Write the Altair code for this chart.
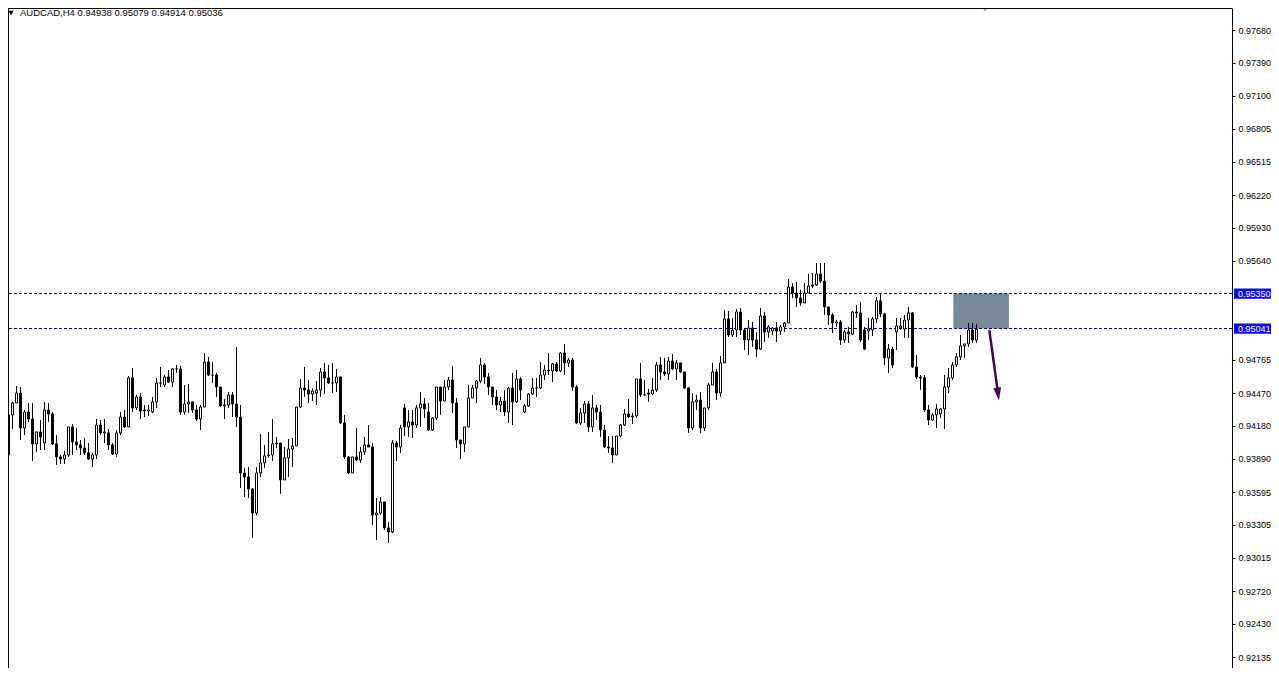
import altair as alt
import pandas as pd

title_text = "AUDCAD,H4  0.94938 0.95079 0.94914 0.95036"

opens = [
    0.94056, 0.93923, 0.94277, 0.94383, 0.94471, 0.94162, 0.94303, 0.94241, 0.94021, 0.94127,
    0.94029, 0.94321, 0.94286, 0.94021, 0.93906, 0.93888, 0.93923, 0.94171, 0.94038, 0.94012,
    0.93985, 0.93941, 0.93888, 0.93923, 0.94188, 0.94118, 0.94118, 0.94012, 0.93932, 0.94118,
    0.94259, 0.94171, 0.94604, 0.94339, 0.94436, 0.94321, 0.94312, 0.94303, 0.94392, 0.94560,
    0.94542, 0.94613, 0.94568, 0.94684, 0.94684, 0.94303, 0.94374, 0.94392, 0.94321, 0.94241,
    0.94347, 0.94745, 0.94630, 0.94630, 0.94524, 0.94356, 0.94365, 0.94454, 0.94374, 0.94259,
    0.93764, 0.93729, 0.93623, 0.93410, 0.93764, 0.93853, 0.93915, 0.93923, 0.94021, 0.94029,
    0.93702, 0.93897, 0.93976, 0.94003, 0.94347, 0.94515, 0.94498, 0.94462, 0.94471, 0.94498,
    0.94657, 0.94604, 0.94560, 0.94560, 0.94613, 0.94206, 0.93906, 0.93764, 0.93906, 0.93879,
    0.93950, 0.94012, 0.93994, 0.93393, 0.93410, 0.93508, 0.93278, 0.93242, 0.94029, 0.93994,
    0.94339, 0.94171, 0.94215, 0.94188, 0.94339, 0.94374, 0.94303, 0.94144, 0.94250, 0.94524,
    0.94400, 0.94524, 0.94586, 0.94383, 0.94056, 0.94021, 0.94171, 0.94427, 0.94515, 0.94577,
    0.94719, 0.94613, 0.94524, 0.94436, 0.94365, 0.94400, 0.94303, 0.94515, 0.94392, 0.94595,
    0.94303, 0.94356, 0.94462, 0.94515, 0.94515, 0.94630, 0.94674, 0.94666, 0.94728, 0.94666,
    0.94825, 0.94737, 0.94763, 0.94524, 0.94206, 0.94294, 0.94374, 0.94171, 0.94339, 0.94303,
    0.94144, 0.93994, 0.93985, 0.93923, 0.94091, 0.94188, 0.94286, 0.94259, 0.94268, 0.94595,
    0.94454, 0.94471, 0.94462, 0.94498, 0.94719, 0.94657, 0.94639, 0.94754, 0.94684, 0.94737,
    0.94657, 0.94515, 0.94162, 0.94392, 0.94409, 0.94162, 0.94339, 0.94542, 0.94657, 0.94471,
    0.94737, 0.95126, 0.94984, 0.95028, 0.95187, 0.95028, 0.94940, 0.95046, 0.94940, 0.94860,
    0.95152, 0.95011, 0.95019, 0.95046, 0.95019, 0.95055, 0.95090, 0.95408, 0.95355, 0.95311,
    0.95267, 0.95355, 0.95417, 0.95426, 0.95523, 0.95461, 0.95232, 0.95161, 0.95090, 0.95099,
    0.94940, 0.95011, 0.94993, 0.95187, 0.95179, 0.95028, 0.95019, 0.95028, 0.95126, 0.95285,
    0.95170, 0.94781, 0.94860, 0.95011, 0.95046, 0.95037, 0.95116, 0.95179, 0.94701, 0.94613,
    0.94604, 0.94321, 0.94232, 0.94277, 0.94286, 0.94330, 0.94524, 0.94604, 0.94719, 0.94790,
    0.94887, 0.94905, 0.95028, 0.94938,
]

highs = [
    0.94082, 0.94294, 0.94392, 0.94533, 0.94524, 0.94321, 0.94383, 0.94383, 0.94127, 0.94232,
    0.94392, 0.94383, 0.94303, 0.94100, 0.93923, 0.93959, 0.94171, 0.94197, 0.94162, 0.94056,
    0.94074, 0.94029, 0.93941, 0.94241, 0.94232, 0.94241, 0.94153, 0.94029, 0.94144, 0.94303,
    0.94321, 0.94621, 0.94692, 0.94454, 0.94471, 0.94365, 0.94365, 0.94436, 0.94604, 0.94701,
    0.94630, 0.94674, 0.94692, 0.94719, 0.94710, 0.94542, 0.94551, 0.94400, 0.94365, 0.94365,
    0.94825, 0.94790, 0.94745, 0.94648, 0.94524, 0.94418, 0.94480, 0.94480, 0.94878, 0.94365,
    0.93809, 0.93817, 0.93632, 0.93817, 0.94109, 0.94012, 0.94127, 0.94241, 0.94082, 0.94029,
    0.93994, 0.94065, 0.94074, 0.94347, 0.94595, 0.94701, 0.94586, 0.94515, 0.94577, 0.94692,
    0.94737, 0.94719, 0.94737, 0.94684, 0.94613, 0.94277, 0.93915, 0.93906, 0.94162, 0.93994,
    0.94082, 0.94188, 0.94029, 0.93543, 0.93552, 0.93508, 0.93331, 0.94056, 0.94047, 0.94188,
    0.94374, 0.94321, 0.94321, 0.94365, 0.94480, 0.94427, 0.94383, 0.94259, 0.94524, 0.94524,
    0.94586, 0.94613, 0.94710, 0.94427, 0.94056, 0.94171, 0.94542, 0.94542, 0.94586, 0.94781,
    0.94737, 0.94648, 0.94524, 0.94498, 0.94436, 0.94498, 0.94524, 0.94648, 0.94674, 0.94613,
    0.94374, 0.94471, 0.94604, 0.94604, 0.94745, 0.94719, 0.94825, 0.94737, 0.94745, 0.94834,
    0.94905, 0.94781, 0.94781, 0.94542, 0.94339, 0.94400, 0.94400, 0.94454, 0.94365, 0.94365,
    0.94188, 0.94091, 0.94091, 0.94091, 0.94197, 0.94330, 0.94418, 0.94294, 0.94595, 0.94737,
    0.94586, 0.94507, 0.94604, 0.94745, 0.94790, 0.94781, 0.94790, 0.94816, 0.94763, 0.94737,
    0.94657, 0.94524, 0.94471, 0.94454, 0.94480, 0.94339, 0.94560, 0.94737, 0.94684, 0.94798,
    0.95205, 0.95196, 0.95134, 0.95214, 0.95223, 0.95046, 0.95116, 0.95099, 0.95011, 0.95223,
    0.95187, 0.95072, 0.95055, 0.95099, 0.95072, 0.95099, 0.95479, 0.95443, 0.95452, 0.95382,
    0.95443, 0.95523, 0.95532, 0.95620, 0.95620, 0.95620, 0.95232, 0.95179, 0.95116, 0.95116,
    0.95028, 0.95055, 0.95196, 0.95249, 0.95276, 0.95055, 0.95134, 0.95143, 0.95320, 0.95355,
    0.95179, 0.94905, 0.94878, 0.95134, 0.95134, 0.95161, 0.95232, 0.95187, 0.94807, 0.94630,
    0.94630, 0.94365, 0.94294, 0.94374, 0.94339, 0.94630, 0.94692, 0.94745, 0.94825, 0.94984,
    0.94905, 0.95090, 0.95090, 0.95079,
]

lows = [
    0.93897, 0.93923, 0.94153, 0.94383, 0.94056, 0.94100, 0.94215, 0.93870, 0.93950, 0.93967,
    0.93967, 0.94215, 0.94012, 0.93835, 0.93844, 0.93844, 0.93906, 0.93923, 0.93967, 0.93923,
    0.93923, 0.93879, 0.93817, 0.93888, 0.94100, 0.94029, 0.93967, 0.93923, 0.93906, 0.94100,
    0.94162, 0.94171, 0.94303, 0.94321, 0.94241, 0.94259, 0.94268, 0.94294, 0.94339, 0.94524,
    0.94524, 0.94560, 0.94524, 0.94648, 0.94277, 0.94277, 0.94294, 0.94294, 0.94224, 0.94144,
    0.94347, 0.94621, 0.94560, 0.94436, 0.94347, 0.94241, 0.94339, 0.94259, 0.94171, 0.93632,
    0.93552, 0.93543, 0.93189, 0.93393, 0.93729, 0.93809, 0.93897, 0.93870, 0.93985, 0.93579,
    0.93702, 0.93729, 0.93817, 0.94003, 0.94339, 0.94436, 0.94383, 0.94400, 0.94365, 0.94436,
    0.94462, 0.94551, 0.94471, 0.94480, 0.94197, 0.93888, 0.93755, 0.93764, 0.93870, 0.93853,
    0.93923, 0.93994, 0.93305, 0.93172, 0.93393, 0.93260, 0.93145, 0.93233, 0.93870, 0.93941,
    0.94091, 0.94082, 0.94074, 0.94162, 0.94171, 0.94250, 0.94135, 0.94135, 0.94232, 0.94277,
    0.94400, 0.94498, 0.94294, 0.93985, 0.93888, 0.93950, 0.94171, 0.94427, 0.94383, 0.94560,
    0.94551, 0.94454, 0.94365, 0.94321, 0.94303, 0.94268, 0.94206, 0.94188, 0.94383, 0.94409,
    0.94294, 0.94347, 0.94454, 0.94436, 0.94507, 0.94586, 0.94630, 0.94568, 0.94657, 0.94657,
    0.94630, 0.94701, 0.94489, 0.94197, 0.94188, 0.94206, 0.94127, 0.94127, 0.94232, 0.94082,
    0.93985, 0.93941, 0.93853, 0.93923, 0.94082, 0.94180, 0.94250, 0.94197, 0.94250, 0.94436,
    0.94445, 0.94392, 0.94454, 0.94480, 0.94586, 0.94621, 0.94586, 0.94674, 0.94586, 0.94648,
    0.94507, 0.94118, 0.94144, 0.94321, 0.94118, 0.94135, 0.94321, 0.94542, 0.94409, 0.94436,
    0.94737, 0.94966, 0.94966, 0.94966, 0.94984, 0.94851, 0.94807, 0.94878, 0.94790, 0.94851,
    0.94922, 0.94958, 0.94984, 0.94922, 0.94984, 0.95011, 0.95090, 0.95311, 0.95232, 0.95240,
    0.95267, 0.95355, 0.95399, 0.95417, 0.95443, 0.95161, 0.95072, 0.95002, 0.95055, 0.94896,
    0.94913, 0.94913, 0.94984, 0.95134, 0.94922, 0.94851, 0.94940, 0.94975, 0.95090, 0.95143,
    0.94719, 0.94648, 0.94692, 0.94851, 0.95028, 0.94958, 0.94958, 0.94692, 0.94595, 0.94498,
    0.94303, 0.94188, 0.94224, 0.94162, 0.94250, 0.94153, 0.94471, 0.94586, 0.94701, 0.94763,
    0.94781, 0.94878, 0.94913, 0.94914,
]

closes = [
    0.93923, 0.94277, 0.94383, 0.94471, 0.94162, 0.94303, 0.94241, 0.94021, 0.94127, 0.94082,
    0.94321, 0.94286, 0.94021, 0.93906, 0.93888, 0.93923, 0.94171, 0.94038, 0.94012, 0.93985,
    0.93941, 0.93888, 0.93923, 0.94188, 0.94118, 0.94127, 0.94012, 0.93932, 0.94118, 0.94259,
    0.94171, 0.94604, 0.94339, 0.94436, 0.94312, 0.94312, 0.94321, 0.94392, 0.94560, 0.94560,
    0.94613, 0.94568, 0.94684, 0.94684, 0.94303, 0.94374, 0.94392, 0.94321, 0.94241, 0.94347,
    0.94745, 0.94630, 0.94630, 0.94524, 0.94356, 0.94365, 0.94454, 0.94374, 0.94259, 0.93764,
    0.93729, 0.93623, 0.93410, 0.93764, 0.93853, 0.93915, 0.93923, 0.94021, 0.94029, 0.93702,
    0.93897, 0.93976, 0.94003, 0.94347, 0.94515, 0.94498, 0.94462, 0.94489, 0.94498, 0.94657,
    0.94604, 0.94560, 0.94560, 0.94613, 0.94206, 0.93906, 0.93764, 0.93906, 0.93879, 0.93950,
    0.94012, 0.93994, 0.93393, 0.93410, 0.93508, 0.93278, 0.93242, 0.94029, 0.93994, 0.94162,
    0.94171, 0.94215, 0.94188, 0.94339, 0.94374, 0.94330, 0.94144, 0.94250, 0.94524, 0.94400,
    0.94524, 0.94586, 0.94383, 0.94056, 0.94021, 0.94171, 0.94427, 0.94515, 0.94577, 0.94719,
    0.94613, 0.94524, 0.94436, 0.94365, 0.94400, 0.94303, 0.94515, 0.94392, 0.94595, 0.94498,
    0.94356, 0.94462, 0.94515, 0.94515, 0.94630, 0.94674, 0.94666, 0.94728, 0.94666, 0.94825,
    0.94737, 0.94763, 0.94524, 0.94206, 0.94294, 0.94374, 0.94171, 0.94339, 0.94303, 0.94144,
    0.93994, 0.93985, 0.93923, 0.94091, 0.94188, 0.94286, 0.94259, 0.94268, 0.94595, 0.94454,
    0.94454, 0.94462, 0.94498, 0.94719, 0.94657, 0.94639, 0.94754, 0.94684, 0.94737, 0.94657,
    0.94515, 0.94162, 0.94392, 0.94409, 0.94162, 0.94339, 0.94542, 0.94657, 0.94471, 0.94737,
    0.95126, 0.94984, 0.95028, 0.95187, 0.95028, 0.94940, 0.95046, 0.94940, 0.94860, 0.95152,
    0.95011, 0.95055, 0.95046, 0.95019, 0.95055, 0.95090, 0.95408, 0.95355, 0.95311, 0.95267,
    0.95355, 0.95417, 0.95426, 0.95523, 0.95461, 0.95232, 0.95161, 0.95090, 0.95099, 0.94940,
    0.95011, 0.94993, 0.95187, 0.95179, 0.94940, 0.94860, 0.95037, 0.95126, 0.95285, 0.95170,
    0.94781, 0.94860, 0.94719, 0.95064, 0.95064, 0.95116, 0.95179, 0.94701, 0.94613, 0.94604,
    0.94321, 0.94232, 0.94277, 0.94330, 0.94330, 0.94524, 0.94604, 0.94719, 0.94790, 0.94887,
    0.94905, 0.95028, 0.94940, 0.95036,
]

tick_values = [0.97680, 0.97390, 0.97100, 0.96805, 0.96515, 0.96220, 0.95930, 0.95640,
               0.94765, 0.94470, 0.94180, 0.93890, 0.93595, 0.93305, 0.93015, 0.92720,
               0.92430, 0.92135]

level_prices = [0.95350, 0.95041]
level_labels = ["0.95350", "0.95041"]

zone_x = [238.2, 252.1]
zone_price = [0.95350, 0.95041]
arrow_x = [247.2, 249.4]
arrow_price = [0.95028, 0.94462]

# ---------------------------------------------------------------------------
W, H = 1224, 660
n = len(closes)
candles = pd.DataFrame({
    "i": list(range(1, n + 1)),
    "open": opens, "high": highs, "low": lows, "close": closes,
})
candles["dir"] = ["up" if c >= o else "down" for o, c in zip(opens, closes)]

levels = pd.DataFrame({"price": level_prices, "label": level_labels})
zone = pd.DataFrame({"x0": [zone_x[0]], "x1": [zone_x[1]],
                     "p0": [zone_price[0]], "p1": [zone_price[1]]})
arrow = pd.DataFrame({"x0": [arrow_x[0]], "x1": [arrow_x[1]],
                      "p0": [arrow_price[0]], "p1": [arrow_price[1]]})
head = pd.DataFrame({"x": [arrow_x[1]], "p": [arrow_price[1]]})
title_df = pd.DataFrame({"t": [title_text]})

FONT = "Liberation Sans"
xs = alt.Scale(domain=[1.875, 307.875], nice=False, zero=False, padding=0)
ys = alt.Scale(domain=[0.92040, 0.978745], nice=False, zero=False, padding=0)
yaxis = alt.Axis(orient="right", values=tick_values, format=".5f", title=None,
                 grid=False, domainColor="black", tickColor="black", tickSize=3,
                 labelPadding=3, labelFont=FONT, labelFontSize=9, labelColor="black",
                 labelOverlap=False, labelFlush=False)


def X(f):
    return alt.X(f, type="quantitative", scale=xs, axis=None)


def Y(f):
    return alt.Y(f, type="quantitative", scale=ys, axis=yaxis)


zone_layer = alt.Chart(zone).mark_rect(color="#778899", opacity=1).encode(
    x=X("x0"), x2="x1:Q", y=Y("p0"), y2="p1:Q")

level_lines = alt.Chart(levels).mark_rule(color="#000080", strokeDash=[3, 2], strokeWidth=1).encode(
    y=Y("price"))

wicks = alt.Chart(candles).mark_rule(color="black", strokeWidth=1).encode(
    x=X("i"), y=Y("low"), y2="high:Q")

bodies = alt.Chart(candles).mark_bar(width=2, stroke="black", strokeWidth=1, opacity=1).encode(
    x=X("i"), y=Y("open"), y2="close:Q",
    fill=alt.Fill("dir:N", scale=alt.Scale(domain=["up", "down"], range=["white", "black"]),
                  legend=None))

arrow_line = alt.Chart(arrow).mark_rule(color="#3D0C4A", strokeWidth=2.5).encode(
    x=X("x0"), x2="x1:Q", y=Y("p0"), y2="p1:Q")

arrow_head = alt.Chart(head).mark_point(
    shape="M-0.6,-1L0.6,-1L0,1Z", filled=True, size=169, angle=352,
    color="#3D0C4A", opacity=1, strokeWidth=0).encode(x=X("x"), y=Y("p"))

label_bg = alt.Chart(levels).mark_point(
    shape="M-1,-0.27L1,-0.27L1,0.27L-1,0.27Z", filled=True, size=1444,
    color="#0A0AF0", opacity=1, strokeWidth=0).encode(x=alt.value(1245), y=Y("price"))

label_txt = alt.Chart(levels).mark_text(
    align="left", baseline="middle", color="white", font=FONT, fontSize=9).encode(
    x=alt.value(1230), y=Y("price"), text="label:N")

title_mark = alt.Chart(title_df).mark_text(
    align="left", baseline="middle", color="black", font=FONT, fontSize=9.5).encode(
    x=alt.value(12), y=alt.value(5), text="t:N")

title_tri = alt.Chart(title_df).mark_point(
    shape="triangle-down", filled=True, color="black", size=30, opacity=1, strokeWidth=0).encode(
    x=alt.value(3), y=alt.value(5))

shift_tri = alt.Chart(title_df).mark_point(
    shape="triangle-down", filled=True, color="#a8a8a8", size=50, opacity=1, strokeWidth=0).encode(
    x=alt.value(977), y=alt.value(1))

# chart frame: left and top edges only (bottom runs off the window in the reference)
frame_left = alt.Chart(title_df).mark_rule(color="black", strokeWidth=1).encode(
    x=alt.value(0.5), y=alt.value(0), y2=alt.value(H))
frame_top = alt.Chart(title_df).mark_rule(color="black", strokeWidth=1).encode(
    x=alt.value(0), x2=alt.value(W), y=alt.value(0.5))

chart = alt.layer(
    zone_layer, level_lines, wicks, bodies, arrow_line, arrow_head,
    label_bg, label_txt, title_mark, title_tri, shift_tri, frame_left, frame_top,
).properties(
    width=W, height=H, background="white",
    padding={"left": 0, "top": 0, "right": 39, "bottom": 0},
    autosize=alt.AutoSizeParams(type="none"),
).configure_view(strokeWidth=0)

chart.save("out.html", embed_options={"renderer": "svg", "actions": False})
